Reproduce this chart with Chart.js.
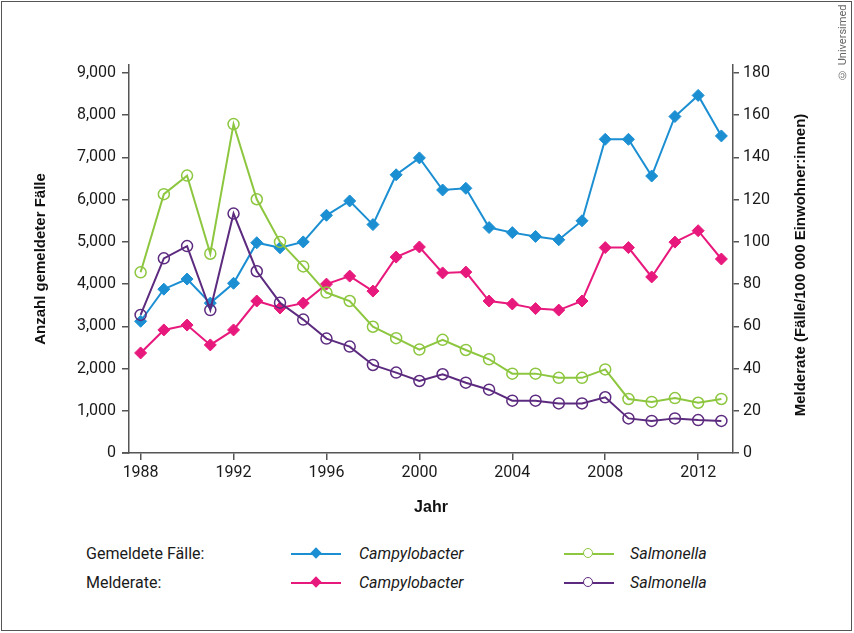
<!DOCTYPE html>
<html lang="de">
<head>
<meta charset="utf-8">
<script src="https://cdn.jsdelivr.net/npm/chart.js@4.4.1/dist/chart.umd.min.js"></script>
<style>
    body { margin: 0; background: #fff; font-family: Roboto, "Noto Sans", sans-serif; color: #1a1a1a; }
    #wrap { position: relative; width: 854px; height: 633px; overflow: hidden; }
    #frame { position: absolute; left: 1px; top: 1px; width: 851px; height: 630px; border: 1px solid #555; box-sizing: border-box; pointer-events: none; }
    #chartBox { position: absolute; left: 0; top: 0; width: 854px; height: 530px; }
    #copy { position: absolute; left: 836px; top: 4px; height: 78px; width: 14px; writing-mode: vertical-rl; transform: rotate(180deg); font-size: 11px; line-height: 14px; color: #666; text-align: center; white-space: nowrap; }
    .row { position: absolute; left: 0; width: 854px; height: 20px; font-size: 16px; line-height: 20px; }
    .row span { position: absolute; top: 0; white-space: nowrap; }
    .row i { position: absolute; top: 0; white-space: nowrap; }
    .sample { position: absolute; top: 9px; width: 50px; height: 2px; }
    .diamond { position: absolute; width: 8px; height: 8px; top: 5px; transform: rotate(45deg); }
    .ring { position: absolute; width: 8px; height: 8px; top: 4px; border-radius: 50%; background: #fff; border: 1.5px solid; }
</style>
</head>
<body>
<div id="wrap">
    <div id="chartBox"><canvas id="chart"></canvas></div>
    <div id="copy">© Universimed</div>
    <div class="row" style="top:544px">
        <span style="left:86px">Gemeldete Fälle:</span>
        <div class="sample" style="left:291px;background:#1b8fd2"></div>
        <div class="diamond" style="left:312px;background:#1b8fd2"></div>
        <i style="left:359px">Campylobacter</i>
        <div class="sample" style="left:564px;background:#8dc63f"></div>
        <div class="ring" style="left:583px;border-color:#8dc63f"></div>
        <i style="left:630px">Salmonella</i>
    </div>
    <div class="row" style="top:573px">
        <span style="left:86px">Melderate:</span>
        <div class="sample" style="left:291px;background:#e8197d"></div>
        <div class="diamond" style="left:312px;background:#e8197d"></div>
        <i style="left:359px">Campylobacter</i>
        <div class="sample" style="left:564px;background:#5c2b7f"></div>
        <div class="ring" style="left:583px;border-color:#5c2b7f"></div>
        <i style="left:630px">Salmonella</i>
    </div>
    <div id="frame"></div>
</div>
<script>
// --- Daten ---
const years = [1988, 1989, 1990, 1991, 1992, 1993, 1994, 1995, 1996, 1997, 1998, 1999, 2000,
               2001, 2002, 2003, 2004, 2005, 2006, 2007, 2008, 2009, 2010, 2011, 2012, 2013];

// Gemeldete Fälle (linke Achse)
const campyCases = [3120, 3880, 4120, 3550, 4020, 4980, 4860, 5000, 5630, 5970, 5410, 6590, 6990,
                    6230, 6270, 5340, 5220, 5130, 5050, 5500, 7430, 7430, 6560, 7970, 8470, 7510];
const salmoCases = [4280, 6130, 6570, 4720, 7790, 6010, 5000, 4420, 3800, 3600, 2990, 2720, 2450,
                    2680, 2440, 2220, 1880, 1880, 1780, 1780, 1980, 1280, 1210, 1300, 1190, 1280];

// Melderate (rechte Achse)
const campyRate = [47.4, 58.3, 60.6, 51.2, 58.3, 72.0, 68.7, 71.0, 80.0, 83.8, 76.7, 92.8, 97.6,
                   85.3, 85.7, 72.0, 70.6, 68.4, 67.7, 72.0, 97.3, 97.3, 83.4, 99.9, 105.3, 91.9];
const salmoRate = [65.4, 92.2, 98.0, 67.7, 113.4, 86.1, 71.2, 63.2, 54.2, 50.4, 41.7, 38.1, 34.1,
                   37.3, 33.3, 30.0, 24.8, 24.8, 23.5, 23.5, 26.4, 16.4, 15.2, 16.4, 15.6, 15.2];

// Achsenbeschriftungen
const yearTicks = [1988, 1992, 1996, 2000, 2004, 2008, 2012];
const caseTicks = [0, 1000, 2000, 3000, 4000, 5000, 6000, 7000, 8000, 9000];
const rateTicks = [0, 20, 40, 60, 80, 100, 120, 140, 160, 180];

const leftTitle = 'Anzahl gemeldeter Fälle';
const rightTitle = 'Melderate (Fälle/100 000 Einwohner:innen)';
const xTitle = 'Jahr';

const axisColor = '#555';
const tickFont = { family: 'Roboto', size: 16 };
const titleFont = { family: '"Liberation Sans", Arial', size: 15, weight: 'bold' };

const toPoints = arr => arr.map((v, i) => ({ x: years[i], y: v }));
const fixTicks = list => scale => { scale.ticks = list.map(v => ({ value: v })); };

function lineSet(label, data, color, axis, filled) {
    return {
        label,
        data: toPoints(data),
        yAxisID: axis,
        borderColor: color,
        borderWidth: 2,
        tension: 0,
        pointStyle: filled ? 'rectRot' : 'circle',
        pointRadius: filled ? 6 : 5.5,
        pointBorderWidth: filled ? 1 : 1.5,
        pointBorderColor: color,
        pointBackgroundColor: filled ? color : 'rgba(255,255,255,0)'
    };
}

// rechter Achsentitel (von unten nach oben lesbar) + Verlängerung der x-Achse
const extras = {
    id: 'extras',
    afterDraw(chart) {
        const { ctx, chartArea } = chart;
        ctx.save();
        ctx.strokeStyle = axisColor;
        ctx.lineWidth = 1.5;
        ctx.beginPath();
        ctx.moveTo(chartArea.left - 7, chartArea.bottom);
        ctx.lineTo(chartArea.left, chartArea.bottom);
        ctx.stroke();

        ctx.translate(801, 265);
        ctx.rotate(-Math.PI / 2);
        ctx.font = 'bold 15px "Liberation Sans", Arial';
        ctx.fillStyle = '#111';
        ctx.textAlign = 'center';
        ctx.textBaseline = 'middle';
        ctx.fillText(rightTitle, 0, 0);
        ctx.restore();
    }
};

new Chart(document.getElementById('chart'), {
    type: 'line',
    data: {
        datasets: [
            lineSet('Melderate Salmonella', salmoRate, '#5c2b7f', 'y1', false),
            lineSet('Gemeldete Fälle Salmonella', salmoCases, '#8dc63f', 'y', false),
            lineSet('Melderate Campylobacter', campyRate, '#e8197d', 'y1', true),
            lineSet('Gemeldete Fälle Campylobacter', campyCases, '#1b8fd2', 'y', true)
        ]
    },
    options: {
        responsive: true,
        maintainAspectRatio: false,
        animation: false,
        layout: { padding: { top: 65, left: 0, right: 0, bottom: 0 } },
        plugins: {
            legend: { display: false },
            tooltip: { enabled: false }
        },
        scales: {
            x: {
                type: 'linear',
                min: 1987.5,
                max: 2013.5,
                afterBuildTicks: fixTicks(yearTicks),
                afterFit: s => { s.height = 77; },
                ticks: {
                    autoSkip: false,
                    maxRotation: 0,
                    padding: 3,
                    color: '#1a1a1a',
                    font: tickFont,
                    callback: v => String(v)
                },
                grid: { display: true, drawOnChartArea: false, tickLength: 7, color: axisColor, lineWidth: 1.5 },
                border: { display: true, color: axisColor, width: 1.5 },
                title: { display: true, text: xTitle, color: '#111', font: { family: '"Liberation Sans", Arial', size: 16, weight: 'bold' }, padding: { top: 0, bottom: 13 } }
            },
            y: {
                position: 'left',
                min: 0,
                max: 9190,
                afterBuildTicks: fixTicks(caseTicks),
                afterFit: s => { s.width = 129; },
                ticks: {
                    autoSkip: false,
                    padding: 6,
                    color: '#1a1a1a',
                    font: tickFont,
                    callback: v => v.toLocaleString('en-US')
                },
                grid: { display: true, drawOnChartArea: false, tickLength: 7, color: axisColor, lineWidth: 1.5 },
                border: { display: true, color: axisColor, width: 1.5 },
                title: { display: true, text: leftTitle, color: '#111', font: titleFont, padding: { top: 32, bottom: 0 } }
            },
            y1: {
                position: 'right',
                min: 0,
                max: 183.8,
                afterBuildTicks: fixTicks(rateTicks),
                afterFit: s => { s.width = 121; },
                ticks: {
                    autoSkip: false,
                    padding: 4,
                    color: '#1a1a1a',
                    font: tickFont,
                    callback: v => String(v)
                },
                grid: { display: true, drawOnChartArea: false, tickLength: 6, color: axisColor, lineWidth: 1.5 },
                border: { display: true, color: axisColor, width: 1.5 },
                title: { display: false }
            }
        }
    },
    plugins: [extras]
});
</script>
</body>
</html>
